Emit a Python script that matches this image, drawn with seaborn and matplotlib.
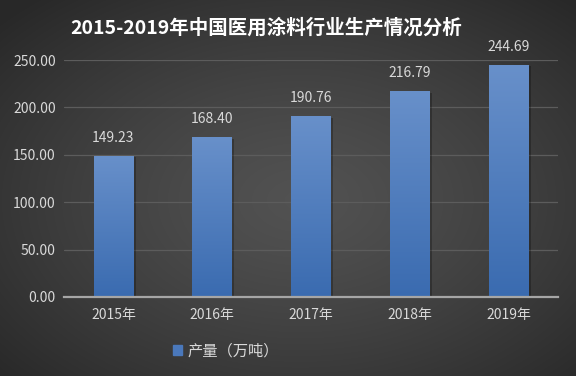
import numpy as np
import pandas as pd
import seaborn as sns
import matplotlib.pyplot as plt
from matplotlib.patches import Patch
from matplotlib.colors import LinearSegmentedColormap

years = ["2015年", "2016年", "2017年", "2018年", "2019年"]
output = [149.23, 168.40, 190.76, 216.79, 244.69]
yticks = [0, 50, 100, 150, 200, 250]

sns.set_theme(style="dark")
plt.rcParams["font.family"] = ["Noto Sans CJK SC", "DejaVu Sans"]

df = pd.DataFrame({"year": years, "output": output})

fig = plt.figure(figsize=(5.76, 3.76), dpi=100)

# 背景：径向渐变
bg = fig.add_axes([0, 0, 1, 1], zorder=-10)
yy, xx = np.mgrid[0:376, 0:576]
r = np.sqrt(((xx - 300) / 576) ** 2 + ((yy - 200) / 376) ** 2) / 0.7
r = np.clip(r, 0, 1)
shade = 0.32 - 0.16 * r ** 1.3
bg.imshow(np.dstack([shade] * 3), aspect="auto", extent=[0, 1, 0, 1])
bg.axis("off")

ax = fig.add_axes([64 / 576, 1 - 297 / 376, (558 - 64) / 576, (297 - 60) / 376])
ax.set_facecolor("none")

sns.barplot(data=df, x="year", y="output", color="#4a78bb", width=0.4,
            saturation=1, linewidth=0, ax=ax, zorder=3)

# 柱子渐变 + 阴影
grad = np.linspace(0, 1, 256).reshape(-1, 1)
cmap = LinearSegmentedColormap.from_list("bar", ["#6890ca", "#3a6bb0"])
for p in list(ax.patches):
    p.set_edgecolor("none")
    x0, w, h = p.get_x(), p.get_width(), p.get_height()
    ax.add_patch(plt.Rectangle((x0 + 0.025, 0), w, h - 1.5, color="#000000",
                               alpha=0.25, zorder=2, lw=0))
    im = ax.imshow(grad, cmap=cmap, aspect="auto", extent=[x0, x0 + w, 0, h],
                   zorder=4)
    im.set_clip_path(p)

ax.set_xlim(-0.5, 4.5)
ax.set_ylim(0, 250)
ax.set_yticks(yticks)
ax.set_yticklabels([f"{v:.2f}" for v in yticks])
ax.grid(axis="y", color="#5c5c5c", lw=0.9, zorder=0)
ax.grid(axis="x", visible=False)
for s in ["top", "right", "left"]:
    ax.spines[s].set_visible(False)
ax.spines["bottom"].set_color("#a6a6a6")
ax.spines["bottom"].set_linewidth(1.6)
ax.spines["bottom"].set_zorder(5)
ax.tick_params(axis="both", colors="#d9d9d9", labelsize=10, length=0, pad=8)
ax.tick_params(axis="y", pad=6)
ax.set_xlabel("")
ax.set_ylabel("")

for i, v in enumerate(output):
    ax.text(i, v + 19, f"{v:.2f}", ha="center", va="center", color="#d9d9d9",
            fontsize=10, zorder=6)

fig.text(266 / 576, 1 - 28 / 376, "2015-2019年中国医用涂料行业生产情况分析",
         ha="center", va="center", color="white", fontsize=14,
         fontweight="bold")

handle = Patch(facecolor="#4a78bb", edgecolor="#4a78bb")
leg = fig.legend([handle], ["产量（万吨）"], loc="center",
                 bbox_to_anchor=(226 / 576, 1 - 351 / 376), frameon=False,
                 fontsize=11, handlelength=0.6, handleheight=0.6,
                 handletextpad=0.4)
for t in leg.get_texts():
    t.set_color("#d9d9d9")

fig.savefig("out.png", dpi=100)
